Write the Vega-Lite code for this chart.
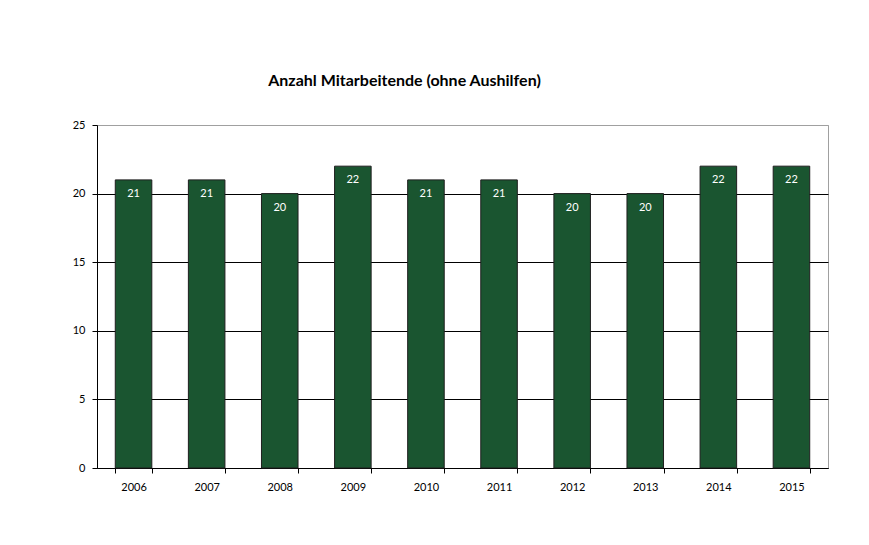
{
  "$schema": "https://vega.github.io/schema/vega-lite/v6.json",
  "autosize": "none",
  "padding": {"left": 97, "top": 125, "right": 41, "bottom": 77},
  "width": 731,
  "height": 343,
  "background": "white",
  "title": {
    "text": "Anzahl Mitarbeitende (ohne Aushilfen)",
    "anchor": "start",
    "dx": 196,
    "offset": 30,
    "font": "Lato",
    "fontSize": 16,
    "fontWeight": "bold",
    "color": "#000"
  },
  "config": {
    "view": {"stroke": "#a0a0a0", "strokeWidth": 1},
    "axis": {"labelFont": "Lato", "labelFontSize": 11, "labelColor": "#000", "domainColor": "#000", "tickColor": "#000", "tickSize": 5}
  },
  "data": {
    "values": [
      {"Jahr": "2006", "Anzahl": 21},
      {"Jahr": "2007", "Anzahl": 21},
      {"Jahr": "2008", "Anzahl": 20},
      {"Jahr": "2009", "Anzahl": 22},
      {"Jahr": "2010", "Anzahl": 21},
      {"Jahr": "2011", "Anzahl": 21},
      {"Jahr": "2012", "Anzahl": 20},
      {"Jahr": "2013", "Anzahl": 20},
      {"Jahr": "2014", "Anzahl": 22},
      {"Jahr": "2015", "Anzahl": 22}
    ]
  },
  "encoding": {
    "x": {
      "field": "Jahr",
      "type": "ordinal",
      "scale": {"paddingInner": 0.5, "paddingOuter": 0.25},
      "axis": {"title": null, "labelAngle": 0, "tickBand": "extent", "labelPadding": 8, "grid": false}
    },
    "y": {
      "field": "Anzahl",
      "type": "quantitative",
      "scale": {"domain": [0, 25], "nice": false},
      "axis": {
        "title": null,
        "values": [0, 5, 10, 15, 20, 25],
        "labelPadding": 7,
        "grid": true,
        "gridColor": {"condition": {"test": "datum.value === 25", "value": "#a0a0a0"}, "value": "#000"},
        "gridOpacity": 1
      }
    }
  },
  "layer": [
    {"mark": {"type": "bar", "color": "#1a5530", "stroke": "#1e1e1e", "strokeWidth": 1}},
    {
      "mark": {"type": "text", "baseline": "middle", "dy": 14, "color": "white", "font": "Lato", "fontSize": 11},
      "encoding": {"text": {"field": "Anzahl", "type": "quantitative"}}
    }
  ]
}
